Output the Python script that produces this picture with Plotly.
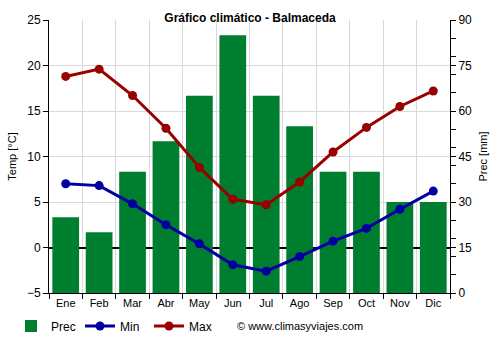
import plotly.graph_objects as go

months = ["Ene", "Feb", "Mar", "Abr", "May", "Jun", "Jul", "Ago", "Sep", "Oct", "Nov", "Dic"]
prec_mm = [25, 20, 40, 50, 65, 85, 65, 55, 40, 40, 30, 30]
temp_min = [7.0, 6.8, 4.8, 2.5, 0.4, -1.9, -2.6, -1.0, 0.7, 2.1, 4.2, 6.2]
temp_max = [18.8, 19.6, 16.7, 13.1, 8.8, 5.3, 4.7, 7.2, 10.5, 13.2, 15.5, 17.2]

FONT = "Liberation Sans, Arial, sans-serif"
GREEN = "#007e2f"
BLUE = "#0000a0"
RED = "#990000"

fig = go.Figure()

# Precipitation bars on the base axis so the temperature lines sit on top
fig.add_trace(go.Bar(
    x=months, y=prec_mm, name="Prec", marker=dict(color=GREEN, line=dict(width=0)),
    yaxis="y", hoverinfo="y",
))
fig.add_trace(go.Scatter(
    x=months, y=temp_min, name="Min", mode="lines+markers",
    line=dict(color=BLUE, width=3), marker=dict(color=BLUE, size=9),
    yaxis="y2",
))
fig.add_trace(go.Scatter(
    x=months, y=temp_max, name="Max", mode="lines+markers",
    line=dict(color=RED, width=3), marker=dict(color=RED, size=9),
    yaxis="y2",
))

fig.update_layout(
    width=500, height=350,
    margin=dict(l=49, r=50, t=20, b=57, autoexpand=False),
    paper_bgcolor="white", plot_bgcolor="white",
    font=dict(family=FONT, size=11, color="black"),
    title=dict(text="<b>Gráfico climático - Balmaceda</b>", x=0.5, xanchor="center",
               yref="container", y=1 - 18 / 350, yanchor="middle",
               font=dict(size=12, family=FONT)),
    bargap=0.2,
    showlegend=True,
    legend=dict(orientation="h", xref="container", yref="container",
                x=0.022, y=1 - 326 / 350, xanchor="left", yanchor="middle",
                font=dict(size=12, family=FONT), itemwidth=30, tracegroupgap=0,
                entrywidth=24, entrywidthmode="pixels",
                bgcolor="rgba(0,0,0,0)"),
    xaxis=dict(
        type="category", range=[-0.5, 11.5], tickson="boundaries",
        showgrid=True, gridcolor="#d9d9d9", gridwidth=1,
        showline=True, linecolor="black", linewidth=1,
        ticks="outside", ticklen=5, tickcolor="black",
        tickfont=dict(size=11),
    ),
    yaxis=dict(
        side="right", range=[0, 90], tickvals=[0, 15, 30, 45, 60, 75, 90],
        showgrid=False, zeroline=False,
        showline=True, linecolor="black", linewidth=1,
        ticks="outside", ticklen=5, tickcolor="black",
        minor=dict(tickvals=[v for v in range(0, 91, 6)], ticks="outside",
                   ticklen=5, tickcolor="black", showgrid=False),
        title=dict(text="Prec [mm]", font=dict(size=11), standoff=8),
        tickfont=dict(size=12),
    ),
    # Temperature axis carries the horizontal grid and the bold 0 °C line
    yaxis2=dict(
        overlaying="y", side="left", range=[-5, 25], dtick=5,
        showgrid=True, gridcolor="#d9d9d9", gridwidth=1,
        zeroline=True, zerolinecolor="black", zerolinewidth=2,
        showline=True, linecolor="black", linewidth=1,
        ticks="outside", ticklen=5, tickcolor="black",
        title=dict(text="Temp [°C]", font=dict(size=11), standoff=8),
        tickfont=dict(size=12),
    ),
)

fig.add_annotation(text="© www.climasyviajes.com", xref="paper", yref="paper",
                   x=(235 - 49) / 401, y=-(326 - 293) / 273, xanchor="left", yanchor="middle",
                   showarrow=False, font=dict(size=11, family=FONT))

fig.write_html("out.html")
